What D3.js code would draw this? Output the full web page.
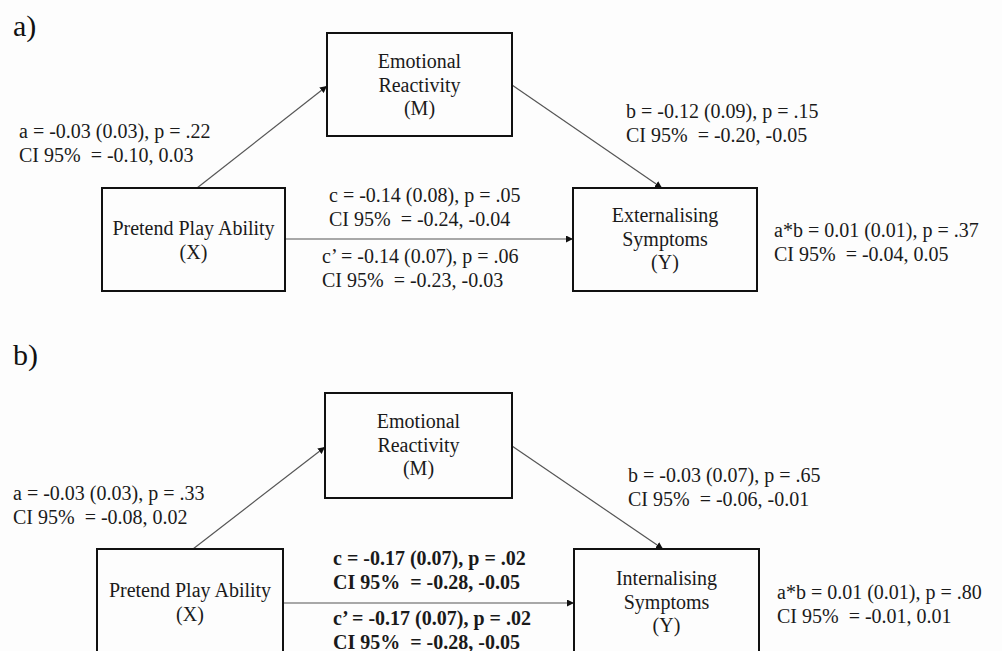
<!DOCTYPE html>
<html>
<head>
<meta charset="utf-8">
<script src="https://cdn.jsdelivr.net/npm/d3@7"></script>
<style>
  html, body { margin: 0; padding: 0; background: #fdfdfd; }
  svg { display: block; font-family: "Liberation Serif", "Times New Roman", serif; }
  text { white-space: pre; }
</style>
</head>
<body>
<svg id="chart" width="1002" height="651"></svg>
<script>
// ---- data ----
const panelLabels = ["a)", "b)"];
const mediatorLabel = ["Emotional", "Reactivity", "(M)"];
const predictorLabel = ["Pretend Play Ability", "(X)"];
const outcomeLabels = [
  ["Externalising", "Symptoms", "(Y)"],
  ["Internalising", "Symptoms", "(Y)"]
];
const aPathText = [
  ["a = -0.03 (0.03), p = .22", "CI 95%  = -0.10, 0.03"],
  ["a = -0.03 (0.03), p = .33", "CI 95%  = -0.08, 0.02"]
];
const bPathText = [
  ["b = -0.12 (0.09), p = .15", "CI 95%  = -0.20, -0.05"],
  ["b = -0.03 (0.07), p = .65", "CI 95%  = -0.06, -0.01"]
];
const cPathText = [
  ["c = -0.14 (0.08), p = .05", "CI 95%  = -0.24, -0.04"],
  ["c = -0.17 (0.07), p = .02", "CI 95%  = -0.28, -0.05"]
];
const cPrimeText = [
  ["c\u2019 = -0.14 (0.07), p = .06", "CI 95%  = -0.23, -0.03"],
  ["c\u2019 = -0.17 (0.07), p = .02", "CI 95%  = -0.28, -0.05"]
];
const abText = [
  ["a*b = 0.01 (0.01), p = .37", "CI 95%  = -0.04, 0.05"],
  ["a*b = 0.01 (0.01), p = .80", "CI 95%  = -0.01, 0.01"]
];
const cSignificant = [false, true];

// ---- layout (per panel) ----
const layouts = [
  {
    label: [13, 36],
    M: {x: 327, y: 33, w: 185, h: 103, ty: 68},
    X: {x: 102, y: 188, w: 183, h: 103, ty: 235},
    Y: {x: 573, y: 188, w: 184, h: 103, ty: 222},
    aStart: [197, 188], aEnd: [327, 86],
    bStart: [512, 85], bEnd: [662, 188],
    cY: 239,
    aText: [19, 138], bText: [626, 118],
    cText: [329, 202], cpText: [322, 263], abText: [774, 237]
  },
  {
    label: [13, 365],
    M: {x: 325, y: 393, w: 187, h: 105, ty: 428},
    X: {x: 97, y: 549, w: 186, h: 120, ty: 597},
    Y: {x: 574, y: 549, w: 185, h: 120, ty: 585},
    aStart: [193, 549], aEnd: [325, 447],
    bStart: [512, 446], bEnd: [663, 549],
    cY: 603,
    aText: [13, 500], bText: [628, 482],
    cText: [333, 565], cpText: [333, 625], abText: [777, 599]
  }
];

const fontSize = 20, lineH = 23.5;
const svg = d3.select("#chart");

const defs = svg.append("defs");
defs.append("marker")
  .attr("id", "arrow")
  .attr("viewBox", "0 0 10 10")
  .attr("refX", 10).attr("refY", 5)
  .attr("markerWidth", 7).attr("markerHeight", 7)
  .attr("markerUnits", "userSpaceOnUse")
  .attr("orient", "auto")
  .append("path").attr("d", "M0,0 L10,5 L0,10 Z").attr("fill", "#111");

function textBlock(g, lines, x, y, anchor, bold) {
  const t = g.append("text")
    .attr("x", x).attr("y", y)
    .attr("font-size", fontSize)
    .attr("fill", "#1a1a1a")
    .attr("text-anchor", anchor)
    .attr("font-weight", bold ? "bold" : "normal");
  lines.forEach((ln, i) => {
    t.append("tspan").attr("x", x).attr("y", y + i * lineH).text(ln);
  });
}

function box(g, b, lines) {
  g.append("rect")
    .attr("x", b.x).attr("y", b.y).attr("width", b.w).attr("height", b.h)
    .attr("fill", "none").attr("stroke", "#111").attr("stroke-width", 2);
  textBlock(g, lines, b.x + b.w / 2, b.ty, "middle", false);
}

function arrow(g, p0, p1) {
  g.append("path")
    .attr("d", d3.line()([p0, p1]))
    .attr("stroke", "#555").attr("stroke-width", 1.2).attr("fill", "none")
    .attr("marker-end", "url(#arrow)");
}

panelLabels.forEach((lbl, i) => {
  const L = layouts[i];
  const g = svg.append("g");
  g.append("text").attr("x", L.label[0]).attr("y", L.label[1])
    .attr("font-size", 30).attr("fill", "#111").text(lbl);

  arrow(g, L.aStart, L.aEnd);
  arrow(g, L.bStart, L.bEnd);
  arrow(g, [L.X.x + L.X.w, L.cY], [L.Y.x, L.cY]);

  box(g, L.M, mediatorLabel);
  box(g, L.X, predictorLabel);
  box(g, L.Y, outcomeLabels[i]);

  textBlock(g, aPathText[i], L.aText[0], L.aText[1], "start", false);
  textBlock(g, bPathText[i], L.bText[0], L.bText[1], "start", false);
  textBlock(g, cPathText[i], L.cText[0], L.cText[1], "start", cSignificant[i]);
  textBlock(g, cPrimeText[i], L.cpText[0], L.cpText[1], "start", cSignificant[i]);
  textBlock(g, abText[i], L.abText[0], L.abText[1], "start", false);
});
</script>
</body>
</html>
